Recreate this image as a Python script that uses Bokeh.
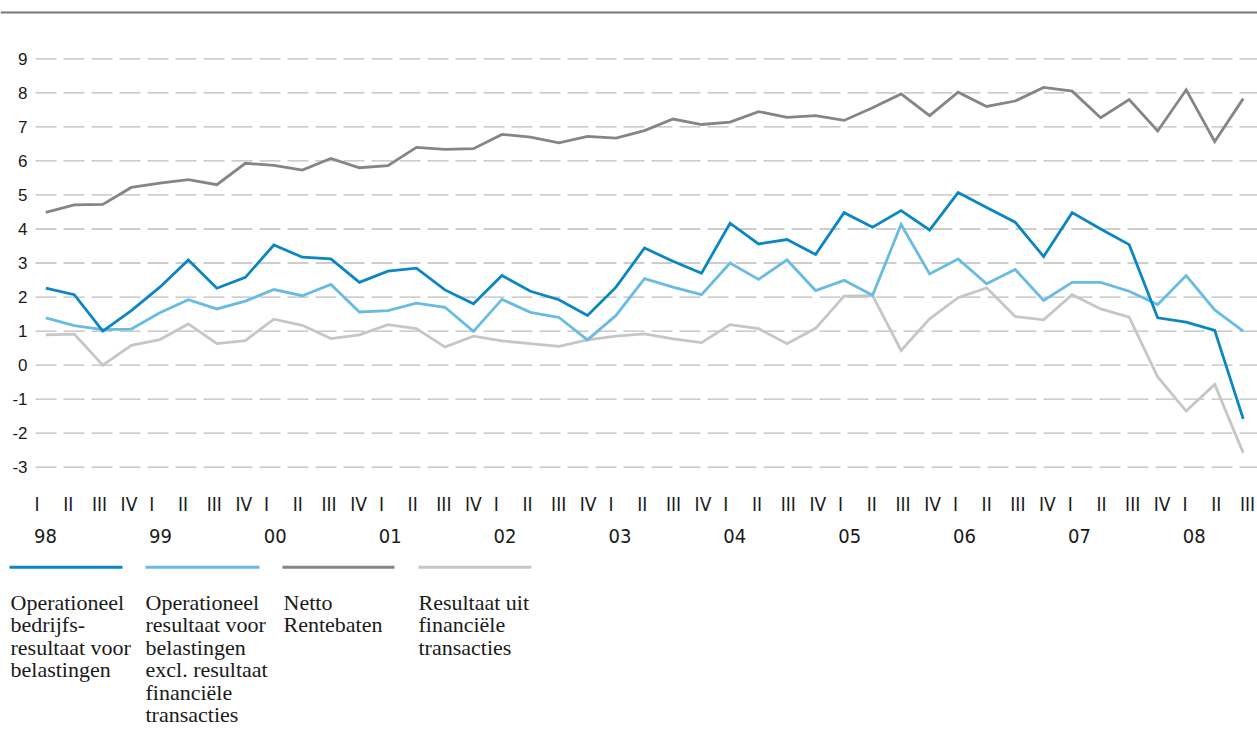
from bokeh.plotting import figure
from bokeh.models import Range1d
from bokeh.core.properties import value
from bokeh.embed import file_html
from bokeh.resources import INLINE

# ---------------- data ----------------
quarters = ["I", "II", "III", "IV"]
years = ["98", "99", "00", "01", "02", "03", "04", "05", "06", "07", "08"]
n_points = 43  # 98 Q1 .. 08 Q3

operationeel_bedrijfsresultaat = [
    2.26, 2.07, 1.00, 1.60, 2.29, 3.09, 2.26, 2.58, 3.53, 3.17, 3.12, 2.43, 2.76, 2.85,
    2.21, 1.80, 2.63, 2.17, 1.92, 1.46, 2.29, 3.44, 3.05, 2.70, 4.17, 3.56, 3.69, 3.25,
    4.48, 4.05, 4.54, 3.97, 5.07, 4.63, 4.20, 3.19, 4.48, 4.00, 3.54, 1.39, 1.26, 1.02, -1.58]

operationeel_excl_financieel = [
    1.39, 1.16, 1.04, 1.06, 1.54, 1.92, 1.65, 1.88, 2.22, 2.04, 2.37, 1.56, 1.60, 1.82,
    1.70, 0.99, 1.93, 1.55, 1.40, 0.74, 1.46, 2.54, 2.29, 2.07, 3.00, 2.52, 3.09, 2.19,
    2.49, 2.05, 4.13, 2.68, 3.12, 2.39, 2.81, 1.90, 2.43, 2.43, 2.17, 1.78, 2.63, 1.62, 1.00]

netto_rentebaten = [
    4.49, 4.71, 4.72, 5.22, 5.35, 5.45, 5.30, 5.93, 5.87, 5.73, 6.07, 5.80, 5.86, 6.40,
    6.34, 6.36, 6.78, 6.70, 6.53, 6.72, 6.67, 6.89, 7.23, 7.07, 7.14, 7.45, 7.28, 7.33,
    7.19, 7.56, 7.97, 7.33, 8.02, 7.60, 7.76, 8.16, 8.05, 7.27, 7.80, 6.88, 8.09, 6.57, 7.83]

resultaat_financiele_transacties = [
    0.89, 0.91, 0.00, 0.58, 0.75, 1.21, 0.63, 0.72, 1.35, 1.17, 0.78, 0.89, 1.19, 1.07,
    0.53, 0.85, 0.71, 0.63, 0.55, 0.74, 0.85, 0.92, 0.77, 0.66, 1.19, 1.07, 0.63, 1.08,
    2.03, 2.04, 0.43, 1.36, 1.98, 2.27, 1.43, 1.33, 2.07, 1.65, 1.41, -0.35, -1.35, -0.57, -2.58]

y_ticks = [9, 8, 7, 6, 5, 4, 3, 2, 1, 0, -1, -2, -3]
y_tick_labels = ["9", "8", "7", "6", "5", "4", "3", "2", "1", "0", "-1", "-2", "-3"]

legend_labels = [
    ["Operationeel", "bedrijfs-", "resultaat voor", "belastingen"],
    ["Operationeel", "resultaat voor", "belastingen", "excl. resultaat", "financiële", "transacties"],
    ["Netto", "Rentebaten"],
    ["Resultaat uit", "financiële", "transacties"],
]

# ---------------- styling ----------------
C_DARKBLUE = "#0a86c5"
C_LIGHTBLUE = "#68bbe2"
C_DARKGRAY = "#858585"
C_LIGHTGRAY = "#c6c6c6"
series = [
    (resultaat_financiele_transacties, C_LIGHTGRAY),
    (netto_rentebaten, C_DARKGRAY),
    (operationeel_excl_financieel, C_LIGHTBLUE),
    (operationeel_bedrijfsresultaat, C_DARKBLUE),
]
legend_colors = [C_DARKBLUE, C_LIGHTBLUE, C_DARKGRAY, C_LIGHTGRAY]

W, H = 1257, 729
X0, DX = 45.3, 28.51      # pixel of first quarter, pixels per quarter
Y0, DY = 364.6, 34.03     # pixel of value 0, pixels per unit
COND = value("DejaVu Sans Condensed, Liberation Sans")


def X(px):
    return (px - X0) / DX


def Y(py):
    return (Y0 - py) / DY


p = figure(width=W, height=H, output_backend="svg", toolbar_location=None,
           x_range=Range1d(X(0), X(W)), y_range=Range1d(Y(H), Y(0)),
           x_axis_type=None, y_axis_type=None, min_border=0)
p.grid.visible = False
p.outline_line_color = None
p.background_fill_color = "white"
p.border_fill_color = "white"

# top rule
p.segment(x0=[X(0)], x1=[X(W)], y0=[Y(12)], y1=[Y(12)], line_color="#777777", line_width=2)

# grid lines
p.segment(x0=[X(35)] * len(y_ticks), x1=[X(W)] * len(y_ticks), y0=y_ticks, y1=y_ticks,
          line_color="#bdbdbd", line_width=1.3, line_dash="21 7")

# y tick labels (baseline on grid line)
p.text(x=[X(27)] * len(y_ticks), y=y_ticks, text=y_tick_labels,
       text_font=value("Liberation Sans"), text_font_size="17px", text_color="#1a1a1a",
       text_align="right", text_baseline="alphabetic")

# x labels: quarters and years
qx, qt = [], []
for k in range(n_points):
    qx.append(X(34 + 28.7 * k))
    qt.append(quarters[k % 4])
p.text(x=qx, y=[Y(503)] * len(qx), text=qt, text_font=COND,
       text_font_size="19px", text_color="#1a1a1a", text_align="left", text_baseline="alphabetic")
yx = [X(45 + 28.72 * 4 * k) for k in range(len(years))]
p.text(x=yx, y=[Y(535)] * len(yx), text=years, text_font=COND,
       text_font_size="20px", text_color="#1a1a1a", text_align="center", text_baseline="alphabetic")

# series lines
xs = list(range(n_points))
for vals, col in series:
    p.line(x=xs, y=vals, line_color=col, line_width=2.8, line_join="miter")

# legend
leg_line_x = [(9, 122), (145, 259), (282, 394), (418, 531)]
leg_text_x = [10, 145, 283, 418]
for (a, b), col in zip(leg_line_x, legend_colors):
    p.segment(x0=[X(a)], x1=[X(b)], y0=[Y(566.7)], y1=[Y(566.7)], line_color=col, line_width=3)
tx, ty, tt = [], [], []
for lx, lines in zip(leg_text_x, legend_labels):
    for j, s in enumerate(lines):
        tx.append(X(lx))
        ty.append(Y(601.5 + 22.5 * j))
        tt.append(s)
p.text(x=tx, y=ty, text=tt, text_font=value("Liberation Serif"), text_font_size="22px",
       text_color="#1a1a1a", text_align="left", text_baseline="alphabetic")

open("out.html", "w").write(file_html(p, INLINE))
